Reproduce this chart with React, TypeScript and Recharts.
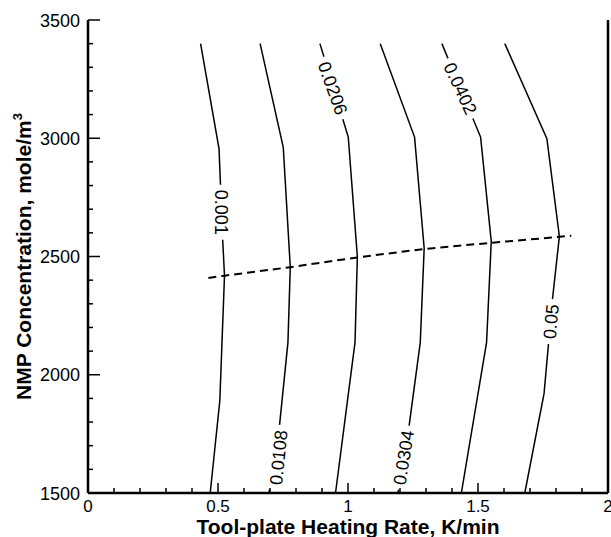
import { ComposedChart, Line, Scatter, XAxis, YAxis } from 'recharts'

// contour lines (x = K/min, y = mole/m3)
const c0001 = [
  { x: 0.433, y: 3400 }, { x: 0.504, y: 2955 }, { x: 0.518, y: 2570 },
  { x: 0.525, y: 2420 }, { x: 0.507, y: 1890 }, { x: 0.47, y: 1500 },
]
const c0108 = [
  { x: 0.662, y: 3400 }, { x: 0.751, y: 2962 }, { x: 0.778, y: 2455 },
  { x: 0.769, y: 2137 }, { x: 0.737, y: 1790 }, { x: 0.696, y: 1500 },
]
const c0206 = [
  { x: 0.892, y: 3400 }, { x: 1.001, y: 3005 }, { x: 1.036, y: 2499 },
  { x: 1.027, y: 2137 }, { x: 0.952, y: 1500 },
]
const c0304 = [
  { x: 1.124, y: 3400 }, { x: 1.256, y: 3005 }, { x: 1.293, y: 2535 },
  { x: 1.278, y: 2137 }, { x: 1.234, y: 1775 }, { x: 1.192, y: 1500 },
]
const c0402 = [
  { x: 1.361, y: 3400 }, { x: 1.51, y: 3005 }, { x: 1.551, y: 2564 },
  { x: 1.533, y: 2137 }, { x: 1.436, y: 1500 },
]
const c05 = [
  { x: 1.603, y: 3400 }, { x: 1.765, y: 2998 }, { x: 1.813, y: 2585 },
  { x: 1.787, y: 2325 }, { x: 1.754, y: 1920 }, { x: 1.68, y: 1500 },
]
const dashed = [
  { x: 0.463, y: 2409 }, { x: 0.525, y: 2419 }, { x: 0.778, y: 2455 },
  { x: 1.036, y: 2496 }, { x: 1.293, y: 2532 }, { x: 1.551, y: 2558 },
  { x: 1.813, y: 2583 }, { x: 1.859, y: 2588 },
]

const contours = [c0001, c0108, c0206, c0304, c0402, c05]

// contour labels
const levelLabels = ['0.001', '0.0108', '0.0206', '0.0304', '0.0402', '0.05']
const labelX = [0.514, 0.732, 0.942, 1.213, 1.433, 1.78]
const labelY = [2687, 1650, 3212, 1650, 3211, 2225]
const labelAngles = [90, -84, 70, -81, 65, -85]

const xTicks = [0, 0.1, 0.2, 0.3, 0.4, 0.5, 0.6, 0.7, 0.8, 0.9, 1, 1.1, 1.2, 1.3, 1.4, 1.5, 1.6, 1.7, 1.8, 1.9, 2]
const yTicks = [1500, 1600, 1700, 1800, 1900, 2000, 2100, 2200, 2300, 2400, 2500, 2600, 2700, 2800, 2900, 3000, 3100, 3200, 3300, 3400, 3500]

const FONT = '"Liberation Sans", Arial, sans-serif'

const labelData = levelLabels.map((text, i) => ({ x: labelX[i], y: labelY[i], text, angle: labelAngles[i] }))

const isMajorX = (v: number) => Math.abs(v * 2 - Math.round(v * 2)) < 1e-6
const isMajorY = (v: number) => v % 500 === 0

function XTick({ x, y, payload }: any) {
  const major = isMajorX(payload.value)
  return (
    <g>
      <line x1={x} x2={x} y1={y} y2={y - (major ? 10 : 5)} stroke="#000" strokeWidth={1.5} />
      {major && (
        <text x={x} y={y + 19} textAnchor="middle" fontSize={17} fontFamily={FONT} fill="#000">
          {String(payload.value)}
        </text>
      )}
    </g>
  )
}

function YTick({ x, y, payload }: any) {
  const major = isMajorY(payload.value)
  return (
    <g>
      <line x1={x} x2={x + (major ? 12 : 5)} y1={y} y2={y} stroke="#000" strokeWidth={1.5} />
      {major && (
        <text x={x - 8} y={y + 6.5} textAnchor="end" fontSize={18} fontFamily={FONT} fill="#000">
          {payload.value}
        </text>
      )}
    </g>
  )
}

function RightTick({ x, y, payload }: any) {
  const major = isMajorY(payload.value)
  return <line x1={x} x2={x - (major ? 10 : 5)} y1={y} y2={y} stroke="#000" strokeWidth={1.2} />
}

function ContourLabel({ cx, cy, payload }: any) {
  const w = payload.text.length * 10 - 5
  return (
    <g transform={`translate(${cx},${cy}) rotate(${payload.angle})`}>
      <rect x={-w / 2 - 5} y={-8} width={w + 10} height={16} fill="#fff" />
      <text x={0} y={6.5} textAnchor="middle" fontSize={18} fontFamily={FONT} fill="#000">
        {payload.text}
      </text>
    </g>
  )
}

const XTitle = ({ viewBox }: any) => (
  <text
    x={viewBox.x + viewBox.width / 2}
    y={viewBox.y + 41}
    textAnchor="middle"
    fontSize={21}
    fontWeight="bold"
    fontFamily={FONT}
    fill="#000"
  >
    Tool-plate Heating Rate, K/min
  </text>
)

const YTitle = ({ viewBox }: any) => {
  const cx = 31
  const cy = viewBox.y + viewBox.height / 2
  return (
    <text
      x={cx}
      y={cy}
      transform={`rotate(-90, ${cx}, ${cy})`}
      textAnchor="middle"
      fontSize={21}
      fontWeight="bold"
      fontFamily={FONT}
      fill="#000"
    >
      NMP Concentration, mole/m
      <tspan dy={-9} fontSize={13}>3</tspan>
    </text>
  )
}

export default function App() {
  const axisLine = { stroke: '#000', strokeWidth: 2.5 }
  return (
    <div style={{ position: 'absolute', left: 0, top: 0, background: '#fff', fontFamily: FONT }}>
      <ComposedChart width={611} height={537} margin={{ top: 20, right: 0, bottom: 0, left: 0 }}>
        <XAxis
          dataKey="x"
          type="number"
          domain={[0, 2]}
          ticks={xTicks}
          interval={0}
          allowDataOverflow
          height={44}
          tickSize={0}
          tickMargin={0}
          tickLine={false}
          axisLine={axisLine}
          tick={<XTick />}
          label={<XTitle />}
        />
        <XAxis
          xAxisId="top"
          orientation="top"
          type="number"
          domain={[0, 2]}
          height={0}
          tick={false}
          tickLine={false}
          axisLine={axisLine}
        />
        <YAxis
          type="number"
          domain={[1500, 3500]}
          ticks={yTicks}
          interval={0}
          allowDataOverflow
          width={88}
          tickSize={0}
          tickMargin={0}
          tickLine={false}
          axisLine={axisLine}
          tick={<YTick />}
          label={<YTitle />}
        />
        <YAxis
          yAxisId="right"
          orientation="right"
          type="number"
          domain={[1500, 3500]}
          ticks={yTicks}
          interval={0}
          width={3}
          tickSize={0}
          tickMargin={0}
          tickLine={false}
          axisLine={axisLine}
          tick={<RightTick />}
        />
        {contours.map((c, i) => (
          <Line
            key={levelLabels[i]}
            name={levelLabels[i]}
            data={c}
            dataKey="y"
            type="linear"
            stroke="#000"
            strokeWidth={1.5}
            dot={false}
            activeDot={false}
            isAnimationActive={false}
          />
        ))}
        <Line
          name="dashed"
          data={dashed}
          dataKey="y"
          type="linear"
          stroke="#000"
          strokeWidth={2}
          strokeDasharray="8 5"
          dot={false}
          activeDot={false}
          isAnimationActive={false}
        />
        <Scatter
          name="labels"
          data={labelData}
          dataKey="y"
          shape={<ContourLabel />}
          isAnimationActive={false}
        />
      </ComposedChart>
    </div>
  )
}
